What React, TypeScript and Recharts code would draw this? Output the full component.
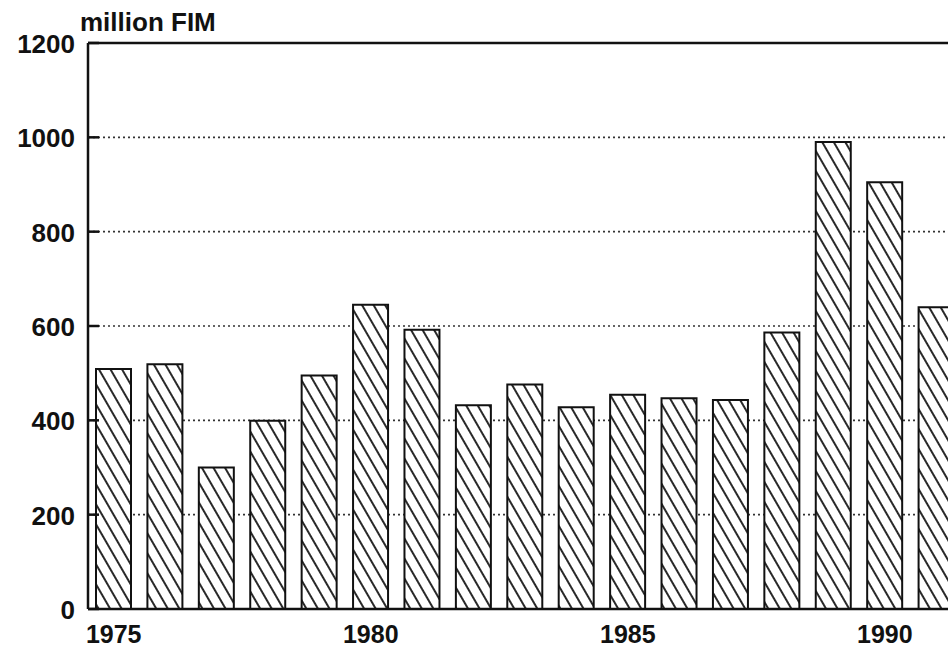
import React from "react";
import { BarChart, Bar, XAxis, YAxis, CartesianGrid, ReferenceLine } from "recharts";

const years = ["1975","1976","1977","1978","1979","1980","1981","1982","1983","1984","1985","1986","1987","1988","1989","1990","1991"];
const values = [509, 519, 300, 399, 495, 645, 592, 432, 476, 428, 454, 447, 443, 586, 990, 905, 640];
const yTicks = [0, 200, 400, 600, 800, 1000, 1200];
const xLabels = ["1975", "1980", "1985", "1990"];
const unitLabel = "million FIM";

const data = years.map((y, i) => ({ year: y, value: values[i] }));

const FONT = "'Liberation Sans', Arial, Helvetica, sans-serif";

const YTick = (props: any) => {
  const { x, y, payload } = props;
  return (
    <g>
      <line x1={x + 13} y1={y} x2={x + 24} y2={y} stroke="#111" strokeWidth={2.5} />
      <text x={x} y={y + 10} textAnchor="end" fontFamily={FONT} fontWeight="bold" fontSize={26} fill="#111">
        {payload.value}
      </text>
    </g>
  );
};

const XTick = (props: any) => {
  const { x, y, payload } = props;
  if (!xLabels.includes(String(payload.value))) return <g />;
  return (
    <text x={x} y={y + 34} textAnchor="middle" fontFamily={FONT} fontWeight="bold" fontSize={25} fill="#111">
      {payload.value}
    </text>
  );
};

export default function App() {
  return (
    <div style={{ position: "absolute", left: 0, top: 0, width: 948, height: 649, overflow: "hidden", background: "#fff" }}>
      <div
        style={{
          position: "absolute",
          left: 80,
          top: 9,
          fontFamily: FONT,
          fontWeight: "bold",
          fontSize: 26,
          lineHeight: "26px",
          color: "#111",
          whiteSpace: "nowrap",
        }}
      >
        {unitLabel}
      </div>
      <BarChart
        width={962}
        height={649}
        data={data}
        margin={{ top: 43, right: 0, bottom: 0, left: 0 }}
        style={{ position: "absolute", left: 0, top: 0 }}
      >
        <defs>
          <pattern id="hatch" patternUnits="userSpaceOnUse" width={10} height={10} patternTransform="rotate(-30)">
            <rect x={0} y={0} width={10} height={10} fill="#fff" />
            <line x1={1} y1={-2} x2={1} y2={12} stroke="#111" strokeWidth={1.8} />
          </pattern>
        </defs>
        <CartesianGrid vertical={false} stroke="#333" strokeWidth={1.6} strokeDasharray="2 3" />
        <XAxis
          dataKey="year"
          interval={0}
          tickLine={false}
          tickSize={0}
          tickMargin={0}
          height={40}
          axisLine={{ stroke: "#111", strokeWidth: 2.5 }}
          tick={<XTick />}
        />
        <YAxis
          domain={[0, 1200]}
          ticks={yTicks}
          width={88}
          tickLine={false}
          tickSize={0}
          tickMargin={13}
          axisLine={{ stroke: "#111", strokeWidth: 2.5 }}
          tick={<YTick />}
        />
        <ReferenceLine y={1200} stroke="#111" strokeWidth={2.5} />
        <Bar dataKey="value" barSize={35} fill="url(#hatch)" stroke="#111" strokeWidth={2} isAnimationActive={false} />
      </BarChart>
    </div>
  );
}
